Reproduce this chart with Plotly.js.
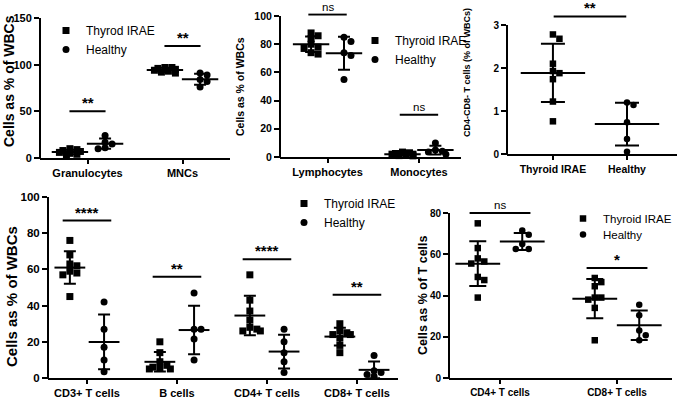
<!DOCTYPE html>
<html><head><meta charset="utf-8">
<script src="https://cdn.plot.ly/plotly-3.0.1.min.js"></script>
<style>html,body{margin:0;padding:0;background:#fff}#chart{width:678px;height:400px}</style>
</head><body><div id="chart"></div>
<script>
// ---------- DATA ----------
// Panel A: % of WBCs
const catsA = ['Granulocytes', 'MNCs'];
const granThyroid = [10, 9, 7, 5, 4, 8, 6, 3];
const granHealthy = [24, 17, 15, 11, 10];
const mncThyroid = [97, 96, 95, 94, 93, 92, 91, 97];
const mncHealthy = [91, 89, 84, 82, 76];
const sigA = ['**', '**'];
const sigLevelA = [50, 120];
// Panel B: % of WBCs
const catsB = ['Lymphocytes', 'Monocytes'];
const lymThyroid = [88, 86, 84, 80, 78, 77, 74, 73];
const lymHealthy = [85, 82, 74, 72, 55];
const monoThyroid = [3, 2.5, 2, 1.5, 1, 3.5, 0.8, 2];
const monoHealthy = [10, 5, 4, 3.5, 2];
const sigB = ['ns', 'ns'];
const sigLevelB = [101, 30];
// Panel C: CD4-CD8- T cells (% of WBCs)
const catsC = ['Thyroid IRAE', 'Healthy'];
const dnThyroid = [2.78, 2.68, 2.1, 1.93, 1.88, 1.74, 1.22, 0.76];
const dnHealthy = [1.2, 1.14, 0.74, 0.35, 0.05];
const sigC = ['**'];
const sigLevelC = [3.2];
// Panel D: % of WBCs
const catsD = ['CD3+ T cells', 'B cells', 'CD4+ T cells', 'CD8+ T cells'];
const cd3Thyroid = [76, 68, 63, 62, 59, 58, 57, 45];
const cd3Healthy = [42, 27, 17, 10, 3.5];
const bThyroid = [20, 14, 9, 7, 6, 5.5, 5, 5];
const bHealthy = [47, 27, 27, 21.5, 10];
const cd4Thyroid = [57, 43, 37, 32, 28, 27, 26, 26];
const cd4Healthy = [27, 20, 14, 9, 3];
const cd8Thyroid = [30, 26, 25, 24, 24, 22, 18, 14];
const cd8Healthy = [12.5, 4, 3, 2, 1];
const sigD = ['****', '**', '****', '**'];
const sigLevelD = [87, 56, 65.6, 46];
// Panel E: % of T cells
const catsE = ['CD4+ T cells', 'CD8+ T cells'];
const tcd4Thyroid = [75, 63, 58, 56.5, 55.5, 49, 47.5, 39];
const tcd4Healthy = [71.5, 69.5, 65, 62.5, 62.5];
const tcd8Thyroid = [48.5, 46.5, 44.5, 39, 39, 38, 34, 18.3];
const tcd8Healthy = [35.5, 30.4, 23, 20.7, 18.3];
const sigE = ['ns', '*'];
const sigLevelE = [80, 53.3];

// ---------- LAYOUT / STYLE ----------
const W = 678, H = 400;
const FONT = 'Liberation Sans, Arial, sans-serif';
const K = '#000';

const panels = [
  {key:'', cats:catsA, groups:[[granThyroid, granHealthy],[mncThyroid, mncHealthy]], sig:sigA, sigLv:sigLevelA,
   xpx:[40,230], ypx:[18,158], xr:[-0.5,1.5], yr:[0,150], ytop:150, yt:[0,50,100,150],
   tf:11, xtf:11, off:0.185, meanW:26, capW:12, ms:7, sigHalf:0.19,
   title:'Cells as % of WBCs', tx:9, ty:81, tsize:14, legends:['legend','legend'], names:['Thyrod IRAE','Healthy']},
  {key:'2', cats:catsB, groups:[[lymThyroid, lymHealthy],[monoThyroid, monoHealthy]], sig:sigB, sigLv:sigLevelB,
   xpx:[280,461], ypx:[13.2,157], xr:[-0.52,1.46], yr:[0,102], ytop:100, yt:[0,20,40,60,80,100],
   tf:10.5, xtf:11, off:0.18, meanW:26, capW:12, ms:7, sigHalf:0.21,
   title:'Cells as % of WBCs', tx:240, ty:87, tsize:10.5, legends:['legend2','legend2'], names:['Thyroid IRAE','Healthy']},
  {key:'3', cats:catsC, groups:[[dnThyroid],[dnHealthy]], sig:sigC, sigLv:sigLevelC,
   xpx:[507,677], ypx:[12.1,154], xr:[-0.62,1.675], yr:[0,3.3], ytop:3, yt:[0,1,2,3],
   tf:10, xtf:10.5, off:0, meanW:46, capW:24, ms:6.5, sigHalf:0.49, sigCenter:[0.5],
   title:'CD4-CD8- T cells (% of WBCs)', tx:467, ty:73, tsize:9, legends:null},
  {key:'4', cats:catsD, groups:[[cd3Thyroid, cd3Healthy],[bThyroid, bHealthy],[cd4Thyroid, cd4Healthy],[cd8Thyroid, cd8Healthy]], sig:sigD, sigLv:sigLevelD,
   xpx:[48,398], ypx:[197,378], xr:[-0.433,3.456], yr:[0,100], ytop:100, yt:[0,20,40,60,80,100],
   tf:11.5, xtf:11, off:0.19, meanW:22, capW:12, ms:7, sigHalf:0.27,
   title:'Cells as % of WBCs', tx:11, ty:297, tsize:15, legends:['legend3','legend3'], names:['Thyroid IRAE','Healthy']},
  {key:'5', cats:catsE, groups:[[tcd4Thyroid, tcd4Healthy],[tcd8Thyroid, tcd8Healthy]], sig:sigE, sigLv:sigLevelE,
   xpx:[449,672], ypx:[208.9,378], xr:[-0.436,1.47], yr:[0,82], ytop:80, yt:[0,20,40,60,80],
   tf:10, xtf:10, off:0.19, meanW:32, capW:17, ms:6.5, sigHalf:0.26,
   title:'Cells as % of T cells', tx:423, ty:295, tsize:12.5, legends:['legend4','legend5'], names:['Thyroid IRAE','Healthy']}
];

function mean(a){return a.reduce((s,v)=>s+v,0)/a.length;}
function sd(a){const m=mean(a);return Math.sqrt(a.reduce((s,v)=>s+(v-m)*(v-m),0)/(a.length-1));}

// beeswarm-style horizontal spread (in px -> axis units), limited width
function swarm(vals, pxX, pxY, size){
  const order = vals.map((v,i)=>i).sort((a,b)=>vals[b]-vals[a]);
  const placed = []; const off = new Array(vals.length).fill(0);
  const thr = size*0.8;
  for (const i of order){
    const y = vals[i]*pxY;
    let best = 0, bestCost = Infinity;
    for (let k=0;k<7;k++){
      const s = k===0?0:(k%2?1:-1)*Math.ceil(k/2);
      const dx = s*size*0.5;
      let cost = 0;
      placed.forEach(p => { cost += Math.max(0, thr-Math.abs(p.x-dx))*Math.max(0, thr-Math.abs(p.y-y)); });
      if (cost < bestCost - 1e-9){ bestCost = cost; best = dx; }
      if (cost === 0) break;
    }
    off[i] = best/pxX; placed.push({x:best, y:y});
  }
  return off;
}

const traces = [];
const annotations = [];
const shapes = [];
const layout = {
  width: W, height: H, margin:{l:0,r:0,t:0,b:0},
  paper_bgcolor:'#fff', plot_bgcolor:'rgba(0,0,0,0)',
  font:{family:FONT, color:K}, showlegend:true, hovermode:false
};

panels.forEach(p => {
  const xa = 'x'+p.key, ya = 'y'+p.key;
  const pxX = (p.xpx[1]-p.xpx[0])/(p.xr[1]-p.xr[0]);
  const pxY = (p.ypx[1]-p.ypx[0])/(p.yr[1]-p.yr[0]);
  const single = p.groups[0].length === 1;
  p.groups.forEach((grp, ci) => {
    grp.forEach((vals, gi) => {
      const side = single ? 0 : (gi===0 ? -1 : 1);
      const gIdx = single ? ci : gi;
      const isHealthy = gIdx===1;
      const base = ci + side*p.off;
      const offs = swarm(vals, pxX, pxY, p.ms);
      const showL = !!p.legends && ci===0;
      traces.push({
        type:'scatter', mode:'markers', xaxis:xa, yaxis:ya,
        x: vals.map((v,i)=>base+offs[i]), y: vals,
        marker:{symbol: isHealthy?'circle':'square', size:p.ms, color:K, line:{width:0}},
        name: p.legends ? p.names[gIdx] : '', showlegend: showL,
        legend: p.legends ? p.legends[gIdx] : 'legend', cliponaxis:false, hoverinfo:'skip'
      });
      traces.push({
        type:'scatter', mode:'markers', xaxis:xa, yaxis:ya,
        x:[base], y:[mean(vals)],
        marker:{symbol:'line-ew', size:p.meanW, color:K, line:{width:2, color:K}},
        error_y:{type:'data', array:[sd(vals)], visible:true, color:K, thickness:2, width:p.capW/2},
        showlegend:false, cliponaxis:false, hoverinfo:'skip'
      });
    });
  });
  // significance bars
  p.sig.forEach((s, i) => {
    const c = p.sigCenter ? p.sigCenter[i] : i;
    traces.push({
      type:'scatter', mode:'lines', xaxis:xa, yaxis:ya,
      x:[c-p.sigHalf, c+p.sigHalf], y:[p.sigLv[i], p.sigLv[i]],
      line:{color:K, width:2}, showlegend:false, hoverinfo:'skip'
    });
    const isNs = s==='ns';
    annotations.push({
      xref:xa, yref:ya, x:c, y:p.sigLv[i], text:s, showarrow:false,
      yanchor:'bottom', yshift: isNs ? 0 : -2,
      font:{family:FONT, size: isNs?11.5:15, color:K, weight: isNs?'normal':'bold'}
    });
  });
  // axes
  const xdom = [p.xpx[0]/W, p.xpx[1]/W];
  const ydom = [1-p.ypx[1]/H, 1-p.ypx[0]/H];
  layout['xaxis'+p.key] = {
    domain:xdom, range:p.xr, anchor:ya, showgrid:false, zeroline:false,
    showline:true, linewidth:2, linecolor:K, ticks:'outside', ticklen:4, tickwidth:2, tickcolor:K,
    tickvals:p.cats.map((c,i)=>i), ticktext:p.cats,
    tickfont:{family:FONT, size:p.xtf, color:K, weight:'bold'}, fixedrange:true
  };
  layout['yaxis'+p.key] = {
    domain:ydom, range:p.yr, anchor:xa, showgrid:false, zeroline:false,
    showline:false, ticks:'outside', ticklen:5, tickwidth:2, tickcolor:K,
    tickvals:p.yt, tickfont:{family:FONT, size:p.tf, color:K, weight:'bold'}, fixedrange:true
  };
  // y axis line from 0 to last tick
  const yBot = 1 - p.ypx[1]/H;
  const yTopPaper = 1 - (p.ypx[1] - p.ytop*pxY)/H;
  shapes.push({type:'line', xref:'paper', yref:'paper', x0:p.xpx[0]/W, x1:p.xpx[0]/W,
    y0:yBot - 1/H, y1:yTopPaper, line:{color:K, width:2}});
  // y axis title
  annotations.push({xref:'paper', yref:'paper', x:p.tx/W, y:1-p.ty/H, text:p.title, textangle:-90,
    showarrow:false, xanchor:'center', yanchor:'middle',
    font:{family:FONT, size:p.tsize, color:K, weight:'bold'}});
});

const legBase = {bgcolor:'rgba(0,0,0,0)', borderwidth:0, font:{family:FONT, size:12, color:K},
  xanchor:'left', yanchor:'top', tracegroupgap:0, itemclick:false, itemdoubleclick:false};
layout.legend  = Object.assign({}, legBase, {x:(68-22)/W, y:1-(27-11)/H});
layout.legend2 = Object.assign({}, legBase, {x:(377-22)/W, y:1-(37-11)/H});
layout.legend3 = Object.assign({}, legBase, {x:(306-22)/W, y:1-(200-11)/H});
layout.legend4 = Object.assign({}, legBase, {x:(585-22)/W, y:1-(214-10)/H, font:{family:FONT, size:11.5, color:K}});
layout.legend5 = Object.assign({}, legBase, {x:(585-22)/W, y:1-(230-10)/H, font:{family:FONT, size:11.5, color:K}});
layout.annotations = annotations;
layout.shapes = shapes;

Plotly.newPlot('chart', traces, layout, {displayModeBar:false, staticPlot:true});
</script>
</body></html>
